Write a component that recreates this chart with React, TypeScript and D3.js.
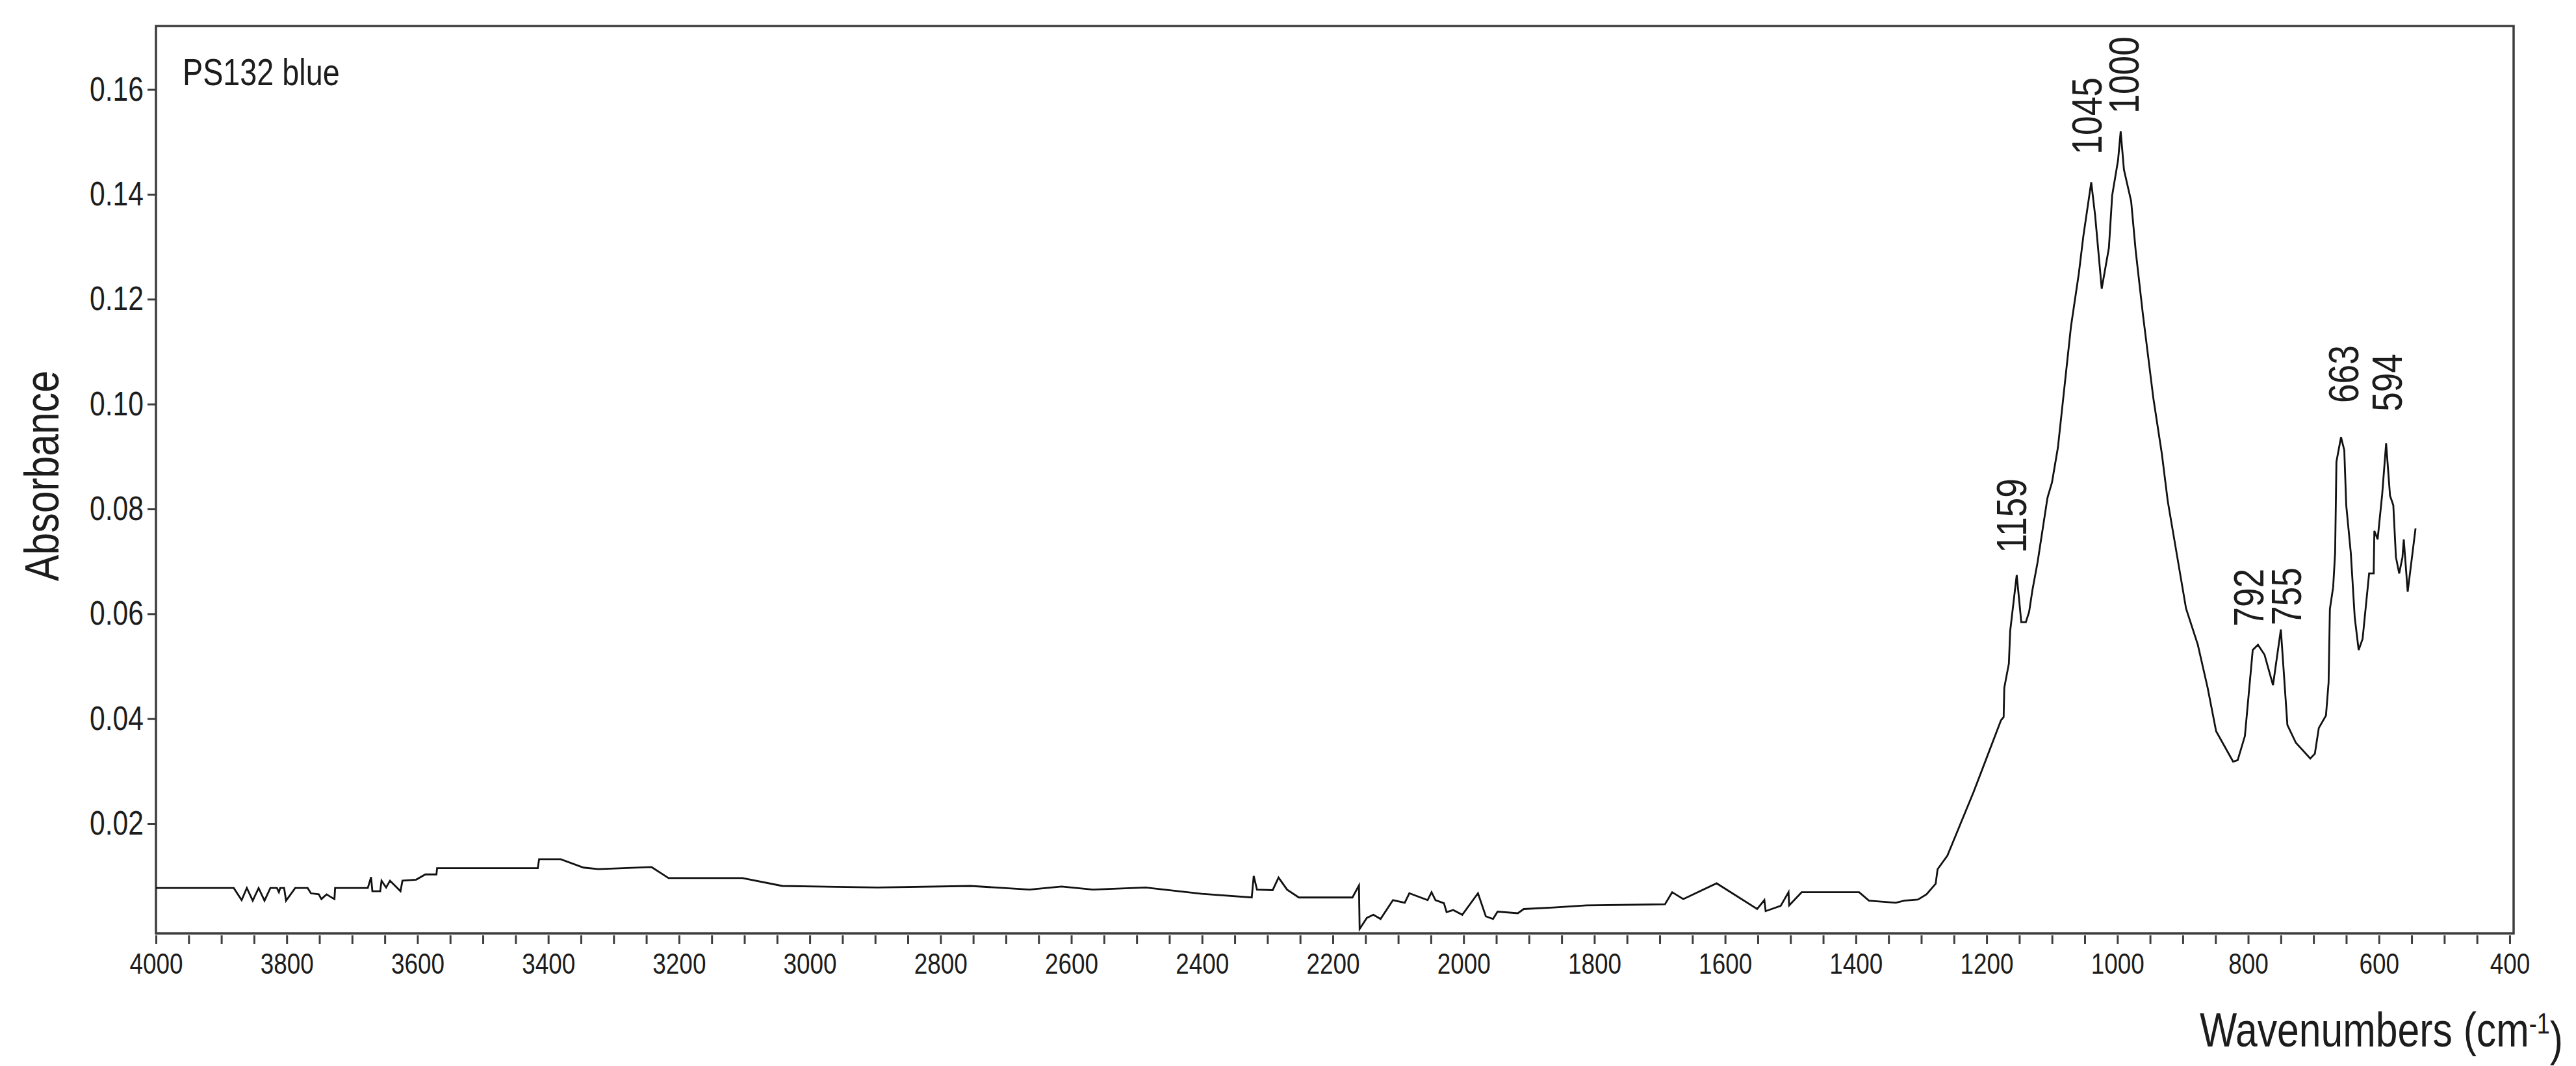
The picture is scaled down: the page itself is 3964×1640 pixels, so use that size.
import React, { useEffect, useRef } from 'react'
import * as d3 from 'd3'

// spectrum (cm-1 / absorbance)
const wavenumbers = [
  4000, 3881, 3869, 3861, 3852, 3843, 3834, 3825, 3815, 3812, 3810, 3804, 3801, 3787, 3768, 3763,
  3751, 3747, 3739, 3734, 3727, 3726, 3678, 3676, 3671, 3669, 3657, 3655, 3648, 3642, 3626, 3623,
  3602, 3588, 3571, 3570, 3416, 3414, 3381, 3346, 3323, 3242, 3216, 3103, 3042, 2896, 2754, 2664,
  2615, 2567, 2486, 2400, 2324, 2321, 2316, 2292, 2283, 2270, 2252, 2170, 2160, 2159, 2148, 2138,
  2127, 2108, 2090, 2083, 2055, 2049, 2043, 2030, 2026, 2016, 2002, 1978, 1966, 1955, 1948, 1917,
  1908, 1862, 1812, 1692, 1681, 1664, 1613, 1551, 1540, 1538, 1515, 1503, 1502, 1483, 1395, 1380,
  1339, 1326, 1305, 1292, 1278, 1275, 1260, 1220, 1178, 1174, 1173, 1166, 1164, 1154, 1147, 1140,
  1135, 1130, 1122, 1107, 1100, 1091, 1071, 1059, 1052, 1040, 1034, 1024, 1013, 1008, 999, 995,
  990, 979, 972, 961, 945, 932, 923, 895, 877, 862, 849, 823, 816, 805, 793, 785,
  775, 762, 750, 740, 727, 705, 698, 692, 681, 677, 675, 670, 667, 665, 658, 653,
  650, 643, 637, 631, 625, 615, 608, 607, 602, 595, 589, 583, 578, 574, 569, 564,
  562, 556, 544,
]
const absorbance = [
  0.0077, 0.0077, 0.0054, 0.0077, 0.0053, 0.0077, 0.0053, 0.0077, 0.0077, 0.0069, 0.0077, 0.0077, 0.0053, 0.0077, 0.0077, 0.0067,
  0.0065, 0.0056, 0.0065, 0.0061, 0.0056, 0.0077, 0.0077, 0.0077, 0.0098, 0.0071, 0.0071, 0.0091, 0.0078, 0.0091, 0.0071, 0.0091,
  0.0093, 0.0103, 0.0103, 0.0115, 0.0115, 0.0132, 0.0132, 0.0116, 0.0113, 0.0117, 0.0096, 0.0096, 0.0081, 0.0078, 0.0081, 0.0074,
  0.008, 0.0074, 0.0078, 0.0066, 0.0059, 0.01, 0.0074, 0.0073, 0.0097, 0.0074, 0.0059, 0.0059, 0.0082, -0.0001, 0.002, 0.0026,
  0.0018, 0.0054, 0.0049, 0.0067, 0.0054, 0.0069, 0.0054, 0.0048, 0.0031, 0.0035, 0.0026, 0.0067, 0.0023, 0.0018, 0.0032, 0.0029,
  0.0037, 0.004, 0.0044, 0.0046, 0.0069, 0.0056, 0.0086, 0.0037, 0.0054, 0.0033, 0.0043, 0.0069, 0.0044, 0.0069, 0.0069, 0.0053,
  0.0049, 0.0053, 0.0055, 0.0065, 0.0085, 0.0113, 0.0139, 0.026, 0.0397, 0.0403, 0.0459, 0.0505, 0.0567, 0.0674, 0.0584, 0.0584,
  0.0604, 0.0645, 0.0699, 0.0821, 0.0851, 0.0917, 0.1148, 0.1249, 0.1321, 0.1423, 0.1359, 0.122, 0.1298, 0.1398, 0.1465, 0.152,
  0.1447, 0.1387, 0.1292, 0.1171, 0.1011, 0.0905, 0.0815, 0.061, 0.0541, 0.0459, 0.0376, 0.0318, 0.0321, 0.0367, 0.0531, 0.0541,
  0.0522, 0.0464, 0.057, 0.0388, 0.0354, 0.0324, 0.0333, 0.0382, 0.0406, 0.0469, 0.0609, 0.0651, 0.0716, 0.089, 0.0937, 0.0912,
  0.0807, 0.0716, 0.0593, 0.0531, 0.0552, 0.0677, 0.0677, 0.0758, 0.0742, 0.0828, 0.0925, 0.0825, 0.0807, 0.0708, 0.0677, 0.0708,
  0.0742, 0.0642, 0.0763,
]

// peak annotations: text, wavenumber it sits on, absorbance where the text starts
const peakLabels = ['1159', '1045', '1000', '792', '755', '663', '594']
const peakLabelAt = [1163, 1047, 991, 800, 742, 655, 588]
const peakLabelBase = [0.0716, 0.1476, 0.1554, 0.0576, 0.0578, 0.1002, 0.0986]

const yTicks = [0.02, 0.04, 0.06, 0.08, 0.1, 0.12, 0.14, 0.16]
const xMajorTicks = d3.range(4000, 399, -200)
const xMinorTicks = d3.range(4000, 399, -50)

const sampleName = 'PS132 blue'
const yTitle = 'Absorbance'
const xTitle = 'Wavenumbers (cm'

const W = 3964
const H = 1640
const left = 240
const right = 3868
const top = 40
const bottom = 1436
// no narrow face installed, so Liberation Sans gets squeezed to look like Arial Narrow
const font = '"Liberation Sans", Arial, sans-serif'
const narrow = 'scale(0.82,1)'
const ink = '#1c1c1c'
const frameColor = '#3d3d3d'

function Spectrum() {
  const ref = useRef<SVGSVGElement>(null)

  useEffect(() => {
    const svg = d3.select(ref.current)
    svg.selectAll('*').remove()

    const x = d3.scaleLinear().domain([4000, 394]).range([left, right])
    const y = d3.scaleLinear().domain([-0.00095, 0.1721]).range([bottom, top])

    svg.append('rect').attr('width', W).attr('height', H).attr('fill', '#fff')

    // y axis ticks + labels
    const yAxis = d3
      .axisLeft(y)
      .tickValues(yTicks)
      .tickSize(13)
      .tickPadding(6)
      .tickFormat(d3.format('.2f'))
    const gy = svg.append('g').attr('transform', `translate(${left},0)`).call(yAxis)
    gy.select('.domain').remove()
    gy.selectAll('line').attr('stroke', frameColor).attr('stroke-width', 3)
    gy.selectAll('text')
      .attr('x', 0)
      .attr('transform', `translate(-19,0) ${narrow}`)
      .attr('fill', ink)
      .style('font-family', font)
      .style('font-size', '52px')

    // x axis: ticks every 50, labels every 200
    const xAxis = d3
      .axisBottom(x)
      .tickValues(xMinorTicks)
      .tickSize(13)
      .tickPadding(14)
      .tickFormat((d) => (xMajorTicks.includes(d as number) ? String(d) : ''))
    const gx = svg.append('g').attr('transform', `translate(0,${bottom + 3})`).call(xAxis)
    gx.select('.domain').remove()
    gx.selectAll('line').attr('stroke', frameColor).attr('stroke-width', 3)
    gx.selectAll('text')
      .attr('transform', narrow)
      .attr('fill', ink)
      .style('font-family', font)
      .style('font-size', '45px')

    // plot frame
    svg
      .append('rect')
      .attr('x', left)
      .attr('y', top)
      .attr('width', right - left)
      .attr('height', bottom - top)
      .attr('fill', 'none')
      .attr('stroke', frameColor)
      .attr('stroke-width', 3.5)

    // spectrum
    const points = wavenumbers.map((w, i) => [w, absorbance[i]] as [number, number])
    const line = d3
      .line<[number, number]>()
      .x((d) => x(d[0]))
      .y((d) => y(d[1]))
    svg
      .append('path')
      .datum(points)
      .attr('d', line)
      .attr('fill', 'none')
      .attr('stroke', '#111')
      .attr('stroke-width', 2.8)
      .attr('stroke-linejoin', 'miter')

    // peak labels, vertical
    svg
      .append('g')
      .selectAll('text')
      .data(peakLabels)
      .enter()
      .append('text')
      .attr(
        'transform',
        (d, i) => `translate(${x(peakLabelAt[i])},${y(peakLabelBase[i])}) rotate(-90) ${narrow}`
      )
      .attr('dy', '0.36em')
      .attr('fill', ink)
      .style('font-family', font)
      .style('font-size', '65px')
      .text((d) => d)

    // sample name
    svg
      .append('text')
      .attr('transform', `translate(281,131) ${narrow}`)
      .attr('fill', ink)
      .style('font-family', font)
      .style('font-size', '57px')
      .text(sampleName)

    // axis titles
    svg
      .append('text')
      .attr('transform', `translate(90,${(top + bottom) / 2 - 6}) rotate(-90) ${narrow}`)
      .attr('text-anchor', 'middle')
      .attr('fill', ink)
      .style('font-family', font)
      .style('font-size', '74px')
      .text(yTitle)

    const xt = svg
      .append('text')
      .attr('transform', `translate(3944,1610) ${narrow}`)
      .attr('text-anchor', 'end')
      .attr('fill', ink)
      .style('font-family', font)
      .style('font-size', '74px')
    xt.append('tspan').text(xTitle)
    xt.append('tspan').attr('dy', '-0.45em').style('font-size', '44px').text('-1')
    xt.append('tspan').attr('dy', '0.45em').text(')')
  }, [])

  return (
    <svg
      ref={ref}
      width={W}
      height={H}
      style={{ position: 'absolute', left: 0, top: 0, display: 'block' }}
    ></svg>
  )
}

export default function App() {
  return <Spectrum />
}
